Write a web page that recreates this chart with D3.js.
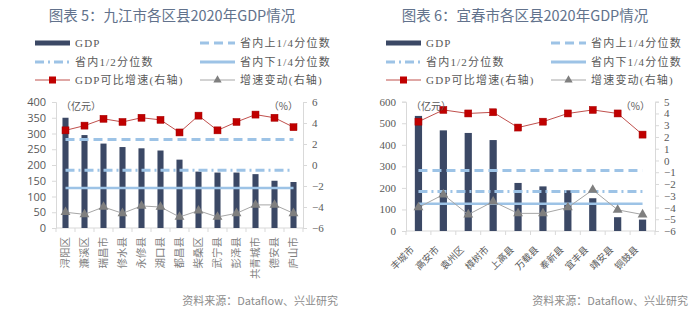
<!DOCTYPE html>
<html>
<head>
<meta charset="utf-8">
<script src="https://cdn.jsdelivr.net/npm/d3@7"></script>
<style>
  body { margin: 0; background: #fff; }
  svg { display: block; }
</style>
</head>
<body>
<script>
//------------------------------------------------------------------------------
// Data
//------------------------------------------------------------------------------

// 九江市 (亿元 / %)
const jjNames = ["浔阳区", "濂溪区", "瑞昌市", "修水县", "永修县", "湖口县", "都昌县",
                 "柴桑区", "武宁县", "彭泽县", "共青城市", "德安县", "庐山市"];
const jjGdp = [350, 295, 268, 257, 253, 246, 217, 179, 176, 176, 171, 150, 146];
const jjGrowth = [3.3, 3.75, 4.4, 4.1, 4.5, 4.3, 3.1, 4.7, 3.3, 4.1, 4.8, 4.5, 3.6];
const jjChange = [-4.5, -4.7, -4.0, -4.6, -3.9, -4.0, -4.95, -4.35, -4.95, -4.6, -3.8, -3.8, -4.6];
const jjLeftTicks = [0, 50, 100, 150, 200, 250, 300, 350, 400];
const jjRightTicks = [-6, -4, -2, 0, 2, 4, 6];

// 宜春市 (亿元 / %)
const ycNames = ["丰城市", "高安市", "袁州区", "樟树市", "上高县", "万载县", "奉新县",
                 "宜丰县", "靖安县", "铜鼓县"];
const ycGdp = [534, 467, 455, 422, 223, 207, 189, 152, 64, 53];
const ycGrowth = [3.3, 4.3, 4.0, 4.1, 2.8, 3.3, 4.0, 4.3, 4.0, 2.2];
const ycChange = [-4.0, -2.9, -4.6, -3.5, -4.5, -4.5, -4.0, -2.5, -4.2, -4.6];
const ycLeftTicks = [0, 100, 200, 300, 400, 500, 600];
const ycRightTicks = [-6, -5, -4, -3, -2, -1, 0, 1, 2, 3, 4, 5];

// 省内分位数 (亿元): 上1/4, 1/2, 下1/4
const provQuantiles = [281, 183, 127];

const legendLabels = ["GDP", "省内上1/4分位数", "省内1/2分位数", "省内下1/4分位数",
                      "GDP可比增速(右轴)", "增速变动(右轴)"];

//------------------------------------------------------------------------------
// Styles
//------------------------------------------------------------------------------

const navy = "#3b4865",
      lightBlue = "#9dc3e6",
      red = "#c00000",
      redLine = "#c0504d",
      triGray = "#7f7f7f",
      lineGray = "#a6a6a6",
      axisGray = "#d9d9d9",
      textGray = "#595959",
      titleColor = "#62728c";

const sansCJK = "'Noto Sans CJK SC', 'Noto Sans', sans-serif";
const serif = "'Liberation Serif', 'Noto Sans CJK SC', serif";
const quantileDash = ["9,5", "9,4,2,4", null];

const svg = d3.select("body").append("svg")
  .attr("width", 700)
  .attr("height", 324);

//------------------------------------------------------------------------------
// Chart
//------------------------------------------------------------------------------

function drawChart(c) {
  const g = svg.append("g");

  g.append("text")
    .attr("x", c.titleX).attr("y", 21)
    .attr("text-anchor", "middle")
    .attr("font-family", sansCJK)
    .attr("font-size", 14.5)
    .attr("fill", titleColor)
    .text(c.title);

  drawLegend(g, c.legendX);

  const x = d3.scaleBand().domain(c.names).range([c.x0, c.x1]);
  const yL = d3.scaleLinear().domain(d3.extent(c.leftTicks)).range([c.yB, c.yT]);
  const yR = d3.scaleLinear().domain(d3.extent(c.rightTicks)).range([c.yB, c.yT]);
  const cx = d => x(d) + x.bandwidth() / 2;
  const bw = x.bandwidth() * c.barRatio;

  // axes
  g.append("g")
    .attr("transform", `translate(${c.x0},0)`)
    .call(d3.axisLeft(yL).tickValues(c.leftTicks).tickSize(4).tickPadding(6))
    .call(styleAxis, c.leftFont);

  g.append("g")
    .attr("transform", `translate(${c.x1},0)`)
    .call(d3.axisRight(yR).tickValues(c.rightTicks).tickSize(4).tickPadding(5))
    .call(styleAxis, serif);

  g.append("line")
    .attr("x1", c.x0).attr("x2", c.x1)
    .attr("y1", c.yB).attr("y2", c.yB)
    .attr("stroke", axisGray);
  g.selectAll(".xtick").data(c.names.concat([null])).join("line")
    .attr("x1", (d, i) => c.x0 + i * x.step()).attr("x2", (d, i) => c.x0 + i * x.step())
    .attr("y1", c.yB).attr("y2", c.yB + 4)
    .attr("stroke", axisGray);

  // bars
  g.selectAll(".bar").data(c.gdp).join("rect")
    .attr("x", (d, i) => cx(c.names[i]) - bw / 2)
    .attr("width", bw)
    .attr("y", d => yL(d))
    .attr("height", d => yL(0) - yL(d))
    .attr("fill", navy);

  // quantile lines
  const first = cx(c.names[0]), last = cx(c.names[c.names.length - 1]);
  provQuantiles.forEach((q, i) => {
    g.append("line")
      .attr("x1", first).attr("x2", last)
      .attr("y1", yL(q)).attr("y2", yL(q))
      .attr("stroke", lightBlue)
      .attr("stroke-width", i == 2 ? 2.5 : 3)
      .attr("stroke-dasharray", quantileDash[i]);
  });

  // growth change (grey triangles)
  g.append("path")
    .datum(c.change)
    .attr("fill", "none").attr("stroke", lineGray).attr("stroke-width", 1)
    .attr("d", d3.line().x((d, i) => cx(c.names[i])).y(d => yR(d)));
  g.selectAll(".tri").data(c.change).join("path")
    .attr("transform", (d, i) => `translate(${cx(c.names[i])},${yR(d)})`)
    .attr("d", d3.symbol(d3.symbolTriangle, 42))
    .attr("fill", triGray);

  // comparable growth (red squares)
  g.append("path")
    .datum(c.growth)
    .attr("fill", "none").attr("stroke", redLine).attr("stroke-width", 1)
    .attr("d", d3.line().x((d, i) => cx(c.names[i])).y(d => yR(d)));
  g.selectAll(".sq").data(c.growth).join("rect")
    .attr("x", (d, i) => cx(c.names[i]) - 3.5)
    .attr("y", d => yR(d) - 3.5)
    .attr("width", 7).attr("height", 7)
    .attr("fill", red)
    .attr("stroke", "#a50000").attr("stroke-width", 0.5);

  // units
  g.append("text")
    .attr("x", c.x0 + 5).attr("y", c.yT + 8)
    .attr("font-family", sansCJK).attr("font-size", 10)
    .attr("fill", textGray)
    .text("（亿元）");
  g.append("text")
    .attr("x", c.x1 - 5).attr("y", c.yT + 8)
    .attr("text-anchor", "end")
    .attr("font-family", sansCJK).attr("font-size", 10)
    .attr("fill", textGray)
    .text("（%）");

  // category labels
  g.selectAll(".cat").data(c.names).join("text")
    .attr("transform", d => c.rotate == -90
      ? `translate(${cx(d)},${c.yB + 9}) rotate(-90)`
      : `translate(${cx(d) - 6},${c.yB + 17}) rotate(-45)`)
    .attr("text-anchor", "end")
    .attr("dy", "0.35em")
    .attr("font-family", sansCJK)
    .attr("font-size", c.catFont)
    .attr("fill", c.catColor)
    .text(d => d);

  // source
  g.append("text")
    .attr("x", c.sourceX).attr("y", 305)
    .attr("text-anchor", "end")
    .attr("font-family", sansCJK).attr("font-size", 11)
    .attr("fill", "#8c8c8c")
    .text("资料来源：Dataflow、兴业研究");
}

function styleAxis(sel, font) {
  sel.select(".domain").attr("stroke", axisGray);
  sel.selectAll(".tick line").attr("stroke", axisGray);
  sel.selectAll(".tick text")
    .attr("font-family", font)
    .attr("font-size", 11)
    .attr("fill", textGray);
}

//--------------------------------------
// Legend
//--------------------------------------

function drawLegend(g, ox) {
  const rows = [43, 62, 80];
  const cols = [ox, ox + 165];
  const sw = 35;

  legendLabels.forEach((label, i) => {
    const lx = cols[i % 2], ly = rows[Math.floor(i / 2)];
    const item = g.append("g").attr("transform", `translate(${lx},${ly})`);

    if (i == 0) {
      item.append("rect").attr("x", 0).attr("y", -2.5)
        .attr("width", sw).attr("height", 5).attr("fill", navy);
    } else if (i <= 3) {
      item.append("line").attr("x1", 0).attr("x2", sw)
        .attr("stroke", lightBlue)
        .attr("stroke-width", 3)
        .attr("stroke-dasharray", quantileDash[i - 1]);
    } else if (i == 4) {
      item.append("line").attr("x1", 0).attr("x2", sw)
        .attr("stroke", redLine);
      item.append("rect").attr("x", sw / 2 - 3.5).attr("y", -3.5)
        .attr("width", 7).attr("height", 7).attr("fill", red);
    } else {
      item.append("line").attr("x1", 0).attr("x2", sw)
        .attr("stroke", lineGray);
      item.append("path").attr("transform", `translate(${sw / 2},0)`)
        .attr("d", d3.symbol(d3.symbolTriangle, 30))
        .attr("fill", triGray);
    }

    item.append("text")
      .attr("x", sw + 5).attr("y", 4)
      .attr("font-family", serif).attr("font-size", 11)
      .attr("letter-spacing", 1.2)
      .attr("fill", textGray)
      .text(label);
  });
}

//------------------------------------------------------------------------------
// Draw
//------------------------------------------------------------------------------

drawChart({
  title: "图表 5：九江市各区县2020年GDP情况",
  titleX: 172,
  legendX: 35,
  names: jjNames, gdp: jjGdp, growth: jjGrowth, change: jjChange,
  leftTicks: jjLeftTicks, rightTicks: jjRightTicks,
  x0: 56, x1: 303, yT: 102, yB: 228,
  barRatio: 0.32,
  leftFont: "'Open Sans', sans-serif",
  rotate: -90, catFont: 10.5, catColor: "#7f7f7f",
  sourceX: 338
});

drawChart({
  title: "图表 6：宜春市各区县2020年GDP情况",
  titleX: 525,
  legendX: 386,
  names: ycNames, gdp: ycGdp, growth: ycGrowth, change: ycChange,
  leftTicks: ycLeftTicks, rightTicks: ycRightTicks,
  x0: 406, x1: 655, yT: 101.7, yB: 231,
  barRatio: 0.29,
  leftFont: serif,
  rotate: -45, catFont: 9.5, catColor: textGray,
  sourceX: 688
});
</script>
</body>
</html>
